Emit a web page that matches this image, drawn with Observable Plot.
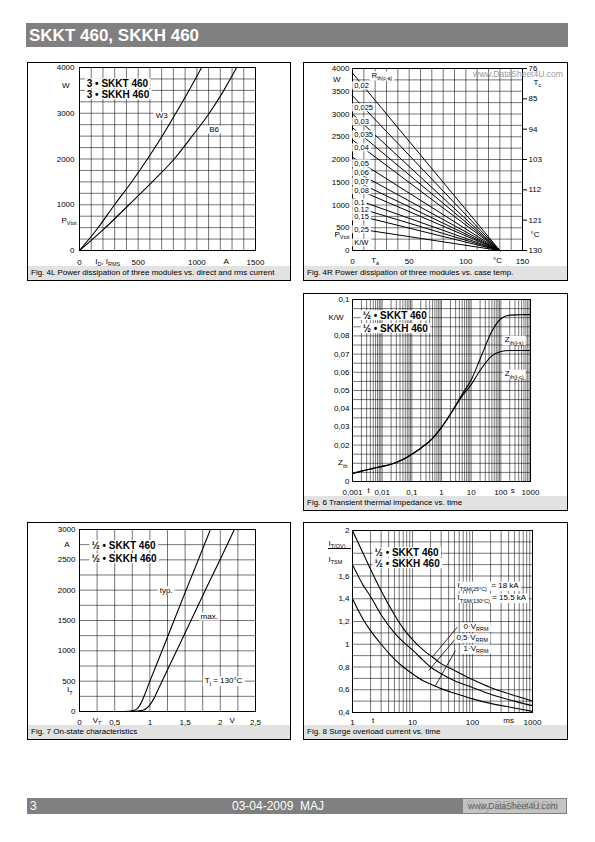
<!DOCTYPE html>
<html><head><meta charset="utf-8">
<script src="https://cdn.jsdelivr.net/npm/d3@7"></script>
<script src="https://cdn.jsdelivr.net/npm/@observablehq/plot@0.6"></script>
<style>
body{margin:0;background:#fff;font-family:"Liberation Sans",Arial,Helvetica,sans-serif;}
#page{position:relative;width:595px;height:842px;overflow:hidden;background:#fff;}
.abs{position:absolute;}
.panel{position:absolute;border:1px solid #000;box-sizing:border-box;}
.cap{position:absolute;left:0;right:0;bottom:0;height:14px;background:#e2e2e2;font-size:8px;line-height:14px;padding-left:3px;color:#000;white-space:nowrap;}
svg{overflow:visible;}
</style></head>
<body><div id="page"></div>
<script>
// ---------------- DATA ----------------
// Fig 4L: power dissipation vs current (A, W)
const w3Current = [0, 150, 299, 450, 579, 700, 821, 940, 1041];
const w3Power   = [0, 470, 1000, 1520, 2000, 2480, 3000, 3530, 4000];
const b6Current = [0, 200, 422, 620, 807, 960, 1106, 1230, 1340];
const b6Power   = [0, 450, 1000, 1500, 2000, 2500, 3000, 3500, 4000];

// Fig 4R: R_th(c-a) lines, power at Ta = 0 °C, converging at 130 °C
const rthLabels = ["0,02","0,025","0,03","0,035","0,04","0,05","0,06","0,07","0,08","0,1","0,12","0,15","0,25"];
const rthP0     = [3900, 3400, 3000, 2700, 2430, 2050, 1770, 1560, 1390, 1150, 975, 800, 495];
const rthLabelP = [3626, 3143, 2835, 2549, 2264, 1912, 1714, 1516, 1319, 1055, 901, 747, 462];
const convTa = 130;
const tcTicks = [76, 85, 94, 103, 112, 121, 130];

// Fig 6: transient thermal impedance (s, K/W)
const zTime = [0.001,0.002,0.005,0.01,0.02,0.05,0.1,0.2,0.5,1,2,5,10,20,50,100,200,500,1000];
const zthJS = [0.0044,0.0057,0.0072,0.0083,0.0095,0.0121,0.015,0.0183,0.0237,0.0297,0.037,0.048,0.0558,0.0673,0.0826,0.0894,0.0914,0.0917,0.0917];
const zthJC = [0.0044,0.0057,0.0072,0.0083,0.0095,0.0121,0.015,0.0183,0.0237,0.0297,0.037,0.047,0.0532,0.061,0.069,0.0714,0.072,0.072,0.072];

// Fig 7: on-state characteristics (V, A)
const typV = [0.5, 0.7, 0.78, 0.83, 0.87, 0.92, 1.0, 1.2, 1.5, 1.86];
const typI = [0, 5, 20, 60, 130, 260, 500, 1080, 1960, 3000];
const maxV = [0.55, 0.8, 0.9, 0.95, 1.0, 1.05, 1.1, 1.2, 1.4, 1.6, 1.8, 2.0, 2.2];
const maxI = [0, 5, 20, 50, 110, 200, 320, 566, 1050, 1540, 2030, 2510, 3000];

// Fig 8: surge overload current (ms, ratio)
const surgeT   = [1, 1.5, 2, 3, 5, 7, 10, 15, 20, 30, 50, 100, 200, 500, 1000];
const surge0   = [2.0, 1.8, 1.66, 1.47, 1.26, 1.14, 1.04, 0.95, 0.9, 0.83, 0.77, 0.69, 0.62, 0.55, 0.5];
const surge05  = [1.7, 1.52, 1.42, 1.26, 1.1, 1.02, 0.95, 0.86, 0.8, 0.74, 0.68, 0.62, 0.56, 0.5, 0.46];
const surge1   = [1.4, 1.22, 1.12, 1.0, 0.87, 0.8, 0.74, 0.68, 0.65, 0.61, 0.57, 0.52, 0.48, 0.44, 0.41];

// ---------------- HELPERS ----------------
const NS = "http://www.w3.org/2000/svg";
const FONT = '"Liberation Sans", Arial, Helvetica, sans-serif';
const page = document.getElementById("page");
const comma = d => String(d).replace(".", ",");
const plain = d => String(d);
const G = {stroke: "#000", strokeOpacity: 0.9, strokeWidth: 0.6};
const STYLE = {fontFamily: FONT, fontSize: "8px", background: "transparent", overflow: "visible", color: "#000"};
const zip = (xs, ys) => xs.map((x, i) => ({x, y: ys[i]}));

function lbl(x, y, text, o = {}) {
  return Plot.text([{x, y, text}], {x: "x", y: "y", text: "text", textAnchor: "start", fontSize: 8, fill: "#000", stroke: "white", strokeWidth: 0.1, ...o});
}
// unit label under the x axis at data position x
function xUnit(x, text, dy) {
  return Plot.text([{x, text}], {x: "x", text: "text", frameAnchor: "bottom", dy, fontSize: 8, fill: "#000"});
}
// unit label left of the y axis at data position y
function yUnit(y, text, dx) {
  return Plot.text([{y, text}], {y: "y", text: "text", frameAnchor: "left", dx: -dx, textAnchor: "end", fontSize: 8, fill: "#000"});
}
function div(cls, left, top, w, h, html, css = "") {
  const d = document.createElement("div");
  d.className = cls;
  d.style.cssText = `left:${left}px;top:${top}px;width:${w}px;height:${h}px;${css}`;
  if (html) d.innerHTML = html;
  page.appendChild(d);
  return d;
}
function panel(left, top, w, h, caption) {
  const d = div("panel", left, top, w, h);
  const c = document.createElement("div"); c.className = "cap"; c.textContent = caption; d.appendChild(c);
}
function subs(t) {
  const s = t.textContent;
  if (!s.includes("_{")) return;
  const fs = parseFloat(getComputedStyle(t).fontSize) || 8;
  while (t.firstChild) t.removeChild(t.firstChild);
  let shifted = false;
  s.split(/(_\{[^}]*\})/).forEach(p => {
    if (!p) return;
    const ts = document.createElementNS(NS, "tspan");
    if (p.startsWith("_{")) {
      ts.textContent = p.slice(2, -1);
      ts.setAttribute("font-size", (fs * 0.68).toFixed(2) + "px");
      ts.setAttribute("dy", (fs * 0.3).toFixed(2));
      shifted = true;
    } else {
      ts.textContent = p;
      if (shifted) { ts.setAttribute("dy", (-fs * 0.3).toFixed(2)); shifted = false; }
    }
    t.appendChild(ts);
  });
}
function place(svg, left, top, w, h) {
  const d = div("abs", left, top, w, h);
  d.appendChild(svg);
  svg.querySelectorAll("text").forEach(subs);
  svg.querySelectorAll('g[aria-label="text"]').forEach(g => {
    if (g.getAttribute("stroke") !== "white") return;
    g.removeAttribute("stroke"); g.removeAttribute("stroke-width");
    g.querySelectorAll("text").forEach(t => {
      const b = t.getBBox();
      const r = document.createElementNS(NS, "rect");
      r.setAttribute("x", b.x - 2); r.setAttribute("y", b.y + 0.5);
      r.setAttribute("width", b.width + 4); r.setAttribute("height", b.height - 1);
      r.setAttribute("fill", "white"); r.setAttribute("stroke", "none");
      const tr = t.getAttribute("transform"); if (tr) r.setAttribute("transform", tr);
      g.insertBefore(r, t);
    });
  });
}

// ---------------- HEADER / FOOTER ----------------
div("abs", 26, 23, 542, 24, "SKKT 460, SKKH 460",
  "background:#808080;color:#fff;font-weight:bold;font-size:17px;line-height:25px;padding-left:3px;box-sizing:border-box;");
div("abs", 27, 798, 540, 16, "", "background:#808080;");
div("abs", 30, 798, 20, 16, "3", "color:#fff;font-size:12px;line-height:16px;");
div("abs", 232, 798, 120, 16, "03-04-2009&nbsp;&nbsp;MAJ", "color:#fff;font-size:12px;line-height:16px;white-space:nowrap;");
div("abs", 463, 799, 103, 14, "", "background:#c4c4c4;");
div("abs", 466, 798, 100, 16, "© by SEMIKRON", "color:#a8a8a8;font-size:12px;line-height:16px;white-space:nowrap;");
div("abs", 468, 798, 100, 16, "www.DataSheet4U.com", "color:#606060;font-size:8.5px;line-height:16px;white-space:nowrap;");

// ---------------- PANELS ----------------
panel(27, 62, 264, 219, "Fig. 4L Power dissipation of three modules vs. direct and rms current");
panel(303, 62, 265, 219, "Fig. 4R Power dissipation of three modules vs. case temp.");
panel(303, 293, 265, 218, "Fig. 6 Transient thermal impedance vs. time");
panel(27, 522, 264, 218, "Fig. 7 On-state characteristics");
panel(303, 522, 265, 218, "Fig. 8 Surge overload current vs. time");

// ---------------- FIG 4L ----------------
place(Plot.plot({
  width: 264, height: 205, marginLeft: 52, marginRight: 36, marginTop: 5, marginBottom: 17,
  style: STYLE,
  x: {domain: [0, 1500]}, y: {domain: [0, 4000]},
  marks: [
    Plot.gridX({ticks: d3.range(0, 1501, 100), ...G}),
    Plot.gridY({ticks: d3.range(0, 4001, 250), ...G}),
    Plot.frame({stroke: "#000"}),
    Plot.line(zip(w3Current, w3Power), {x: "x", y: "y", curve: "monotone-x", stroke: "#000", strokeWidth: 1.1}),
    Plot.line(zip(b6Current, b6Power), {x: "x", y: "y", curve: "monotone-x", stroke: "#000", strokeWidth: 1.1}),
    Plot.axisX({ticks: [0, 500, 1000, 1500], tickFormat: plain, tickSize: 0, tickPadding: 9, label: null}),
    xUnit(240, "I_{D}, I_{RMS}", 13),
    xUnit(1250, "A", 13),
    Plot.axisY({ticks: [0, 1000, 2000, 3000, 4000], tickFormat: plain, tickSize: 0, tickPadding: 5, label: null}),
    yUnit(3600, "W", 10),
    yUnit(656, "P_{Vtot}", 3),
    lbl(62, 3650, "3 • SKKT 460", {fontWeight: "bold", fontSize: 10}),
    lbl(62, 3410, "3 • SKKH 460", {fontWeight: "bold", fontSize: 10}),
    lbl(650, 2950, "W3"),
    lbl(1105, 2645, "B6")
  ]
}), 27, 62, 264, 205);

// ---------------- FIG 4R ----------------
const tcToP = tc => (130 - tc) / (130 - 76) * 4000;
const tcMap = new Map(tcTicks.map(t => [tcToP(t), t]));
const rthLines = rthP0.flatMap((p, i) => [{x: 0, y: p, z: i}, {x: convTa, y: 0, z: i}]);
place(Plot.plot({
  width: 265, height: 203, marginLeft: 49, marginRight: 46, marginTop: 6, marginBottom: 15,
  style: STYLE,
  x: {domain: [0, 150]}, y: {domain: [0, 4000]},
  marks: [
    Plot.gridX({ticks: d3.range(0, 151, 10), ...G}),
    Plot.gridY({ticks: d3.range(0, 4001, 250), ...G}),
    Plot.frame({stroke: "#000"}),
    Plot.line(rthLines, {x: "x", y: "y", z: "z", stroke: "#000", strokeWidth: 1}),
    Plot.axisX({ticks: [0, 50, 100, 150], tickFormat: plain, tickSize: 0, tickPadding: 8, label: null}),
    xUnit(20, "T_{a}", 12),
    xUnit(128, "°C", 12),
    Plot.axisY({ticks: d3.range(0, 4001, 500), tickFormat: plain, tickSize: 0, tickPadding: 3, label: null}),
    yUnit(3750, "W", 12),
    yUnit(352, "P_{Vtot}", 3),
    Plot.axisY({anchor: "right", ticks: tcTicks.map(tcToP), tickFormat: p => tcMap.get(p), tickSize: 4, tickPadding: 2, label: null}),
    Plot.text([{y: 3692, text: "T_{c}"}], {y: "y", text: "text", frameAnchor: "right", dx: 11, textAnchor: "start", fontSize: 8}),
    Plot.text([{y: 352, text: "°C"}], {y: "y", text: "text", frameAnchor: "right", dx: 8, textAnchor: "start", fontSize: 8}),
    lbl(17, 3846, "R_{th(c-a)}", {fontSize: 7.5}),
    Plot.text(rthLabels.map((t, i) => ({x: 1.5, y: rthLabelP[i], text: t})), {x: "x", y: "y", text: "text", textAnchor: "start", fontSize: 7.5, fill: "#000", stroke: "white", strokeWidth: 0.1}),
    lbl(1.5, 176, "K/W", {fontSize: 7.5})
  ]
}), 303, 62, 265, 203);
div("abs", 473, 69, 100, 12, "www.DataSheet4U.com", "color:#9a9a9a;font-size:8.5px;white-space:nowrap;");

// ---------------- FIG 6 ----------------
const logTicks = (a, b) => { const r = []; for (let e = a; e < b; e++) for (let k = 1; k < 10; k++) r.push(k * 10 ** e); r.push(10 ** b); return r; };
const decFmt = d => d < 1 ? comma(+d.toPrecision(1)) : String(d);
place(Plot.plot({
  width: 265, height: 203, marginLeft: 49, marginRight: 38, marginTop: 6, marginBottom: 15,
  style: STYLE,
  x: {type: "log", domain: [0.001, 1000]}, y: {domain: [0, 0.1]},
  marks: [
    Plot.gridX({ticks: logTicks(-3, 3), ...G}),
    Plot.gridY({ticks: d3.range(0, 21).map(i => i * 0.005), ...G}),
    Plot.frame({stroke: "#000"}),
    Plot.line(zip(zTime, zthJS), {x: "x", y: "y", curve: "monotone-x", stroke: "#000", strokeWidth: 1.1}),
    Plot.line(zip(zTime, zthJC), {x: "x", y: "y", curve: "monotone-x", stroke: "#000", strokeWidth: 1.1}),
    Plot.axisX({ticks: [0.001, 0.01, 0.1, 1, 10, 100, 1000], tickFormat: decFmt, tickSize: 0, tickPadding: 8, label: null}),
    xUnit(0.0035, "t", 11),
    xUnit(250, "s", 11),
    Plot.axisY({ticks: [0, 0.02, 0.03, 0.04, 0.05, 0.06, 0.07, 0.08, 0.1], tickFormat: d => d === 0 ? "0" : comma(+d.toFixed(2)), tickSize: 0, tickPadding: 3, label: null}),
    yUnit(0.09, "K/W", 9),
    yUnit(0.0104, "Z_{th}", 5),
    lbl(0.0022, 0.0912, "½ • SKKT 460", {fontWeight: "bold", fontSize: 10}),
    lbl(0.0022, 0.0841, "½ • SKKH 460", {fontWeight: "bold", fontSize: 10}),
    lbl(135, 0.078, "Z_{th(j-s)}"),
    lbl(135, 0.0593, "Z_{th(j-c)}")
  ]
}), 303, 293, 265, 203);

// ---------------- FIG 7 ----------------
place(Plot.plot({
  width: 264, height: 204, marginLeft: 52, marginRight: 36, marginTop: 7, marginBottom: 15,
  style: STYLE,
  x: {domain: [0, 2.5]}, y: {domain: [0, 3000]},
  marks: [
    Plot.gridX({ticks: d3.range(0, 11).map(i => i * 0.25), ...G}),
    Plot.gridY({ticks: d3.range(0, 3001, 250), ...G}),
    Plot.frame({stroke: "#000"}),
    Plot.line(zip(typV, typI), {x: "x", y: "y", curve: "monotone-x", stroke: "#000", strokeWidth: 1.1}),
    Plot.line(zip(maxV, maxI), {x: "x", y: "y", curve: "monotone-x", stroke: "#000", strokeWidth: 1.1}),
    Plot.axisX({ticks: [0, 0.5, 1, 1.5, 2, 2.5], tickFormat: comma, tickSize: 0, tickPadding: 8, label: null}),
    xUnit(0.25, "V_{T}", 11),
    xUnit(2.17, "V", 11),
    Plot.axisY({ticks: d3.range(0, 3001, 500), tickFormat: plain, tickSize: 0, tickPadding: 4, label: null}),
    yUnit(2750, "A", 10),
    yUnit(360, "I_{T}", 7),
    lbl(0.17, 2736, "½ • SKKT 460", {fontWeight: "bold", fontSize: 10}),
    lbl(0.17, 2522, "½ • SKKH 460", {fontWeight: "bold", fontSize: 10}),
    lbl(1.14, 1995, "typ."),
    lbl(1.72, 1566, "max."),
    lbl(1.78, 511, "T_{j} = 130°C")
  ]
}), 27, 522, 264, 204);

// ---------------- FIG 8 ----------------
place(Plot.plot({
  width: 265, height: 204, marginLeft: 49, marginRight: 36, marginTop: 8, marginBottom: 14,
  style: STYLE,
  x: {type: "log", domain: [1, 1000]}, y: {domain: [0.4, 2]},
  marks: [
    Plot.gridX({ticks: logTicks(0, 3), ...G}),
    Plot.gridY({ticks: d3.range(4, 21).map(i => i / 10), ...G}),
    Plot.frame({stroke: "#000"}),
    Plot.line(zip(surgeT, surge0), {x: "x", y: "y", curve: "monotone-x", stroke: "#000", strokeWidth: 1.1}),
    Plot.line(zip(surgeT, surge05), {x: "x", y: "y", curve: "monotone-x", stroke: "#000", strokeWidth: 1.1}),
    Plot.line(zip(surgeT, surge1), {x: "x", y: "y", curve: "monotone-x", stroke: "#000", strokeWidth: 1.1}),
    Plot.link([{x1: 55.6, y1: 1.15, x2: 21.3, y2: 0.886}, {x1: 52, y1: 1.048, x2: 18.7, y2: 0.77}, {x1: 52, y1: 0.945, x2: 24.2, y2: 0.637}],
      {x1: "x1", y1: "y1", x2: "x2", y2: "y2", stroke: "#000", strokeWidth: 0.8}),
    Plot.axisX({ticks: [1, 10, 100, 1000], tickFormat: plain, tickSize: 0, tickPadding: 7, label: null}),
    xUnit(2.2, "t", 10),
    xUnit(400, "ms", 10),
    Plot.axisY({ticks: [0.4, 0.6, 0.8, 1, 1.2, 1.4, 1.6, 2], tickFormat: comma, tickSize: 0, tickPadding: 3, label: null}),
    Plot.text([{y: 1.886, text: "I_{T(OV)}"}], {y: "y", text: "text", frameAnchor: "left", dx: -24, textAnchor: "start", fontSize: 8}),
    Plot.text([{y: 1.75, text: "I_{TSM}"}], {y: "y", text: "text", frameAnchor: "left", dx: -24, textAnchor: "start", fontSize: 8}),
    lbl(2.33, 1.807, "½ • SKKT 460", {fontWeight: "bold", fontSize: 10}),
    lbl(2.33, 1.71, "½ • SKKH 460", {fontWeight: "bold", fontSize: 10}),
    lbl(56, 1.516, "I_{TSM(25°C)}  = 18 kA"),
    lbl(56, 1.41, "I_{TSM(130°C)} = 15.5 kA"),
    lbl(71, 1.156, "0·V_{RRM}"),
    lbl(54, 1.06, "0,5·V_{RRM}"),
    lbl(71, 0.963, "1·V_{RRM}")
  ]
}), 303, 522, 265, 204);
div("abs", 328, 548, 23, 1, "", "background:#000;");
</script>
</body></html>
